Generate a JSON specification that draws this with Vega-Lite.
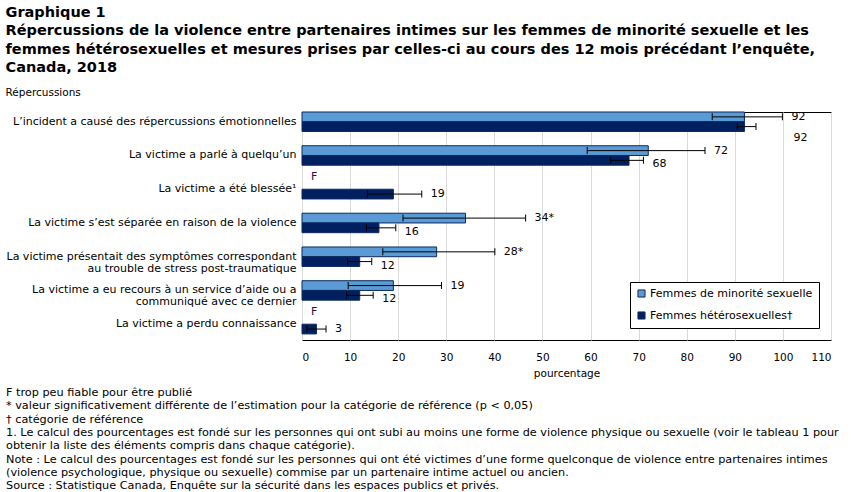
{
  "$schema": "https://vega.github.io/schema/vega-lite/v6.json",
  "background": "white",
  "padding": {"left": 5, "top": 4, "right": 5, "bottom": 0},
  "title": {
    "text": [
      "Graphique 1",
      "Répercussions de la violence entre partenaires intimes sur les femmes de minorité sexuelle et les",
      "femmes hétérosexuelles et mesures prises par celles-ci au cours des 12 mois précédant l’enquête,",
      "Canada, 2018"
    ],
    "subtitle": "Répercussions",
    "anchor": "start",
    "frame": "bounds",
    "font": "DejaVu Sans",
    "fontSize": 14.5,
    "fontWeight": "bold",
    "lineHeight": 18.5,
    "color": "#000",
    "subtitleFont": "DejaVu Sans",
    "subtitleFontSize": 10.5,
    "subtitleColor": "#000",
    "subtitlePadding": 12,
    "offset": 11
  },
  "resolve": {"legend": {"color": "independent"}},
  "datasets": {
    "donnees": [
      {"categorie": "L’incident a causé des répercussions émotionnelles", "groupe": "Femmes de minorité sexuelle", "valeur": 92, "bas": 85.3, "haut": 99.9, "etiquette": "92"},
      {"categorie": "L’incident a causé des répercussions émotionnelles", "groupe": "Femmes hétérosexuelles†", "valeur": 92, "bas": 90.5, "haut": 94.4, "etiquette": "92"},
      {"categorie": "La victime a parlé à quelqu’un", "groupe": "Femmes de minorité sexuelle", "valeur": 72, "bas": 59.3, "haut": 83.8, "etiquette": "72"},
      {"categorie": "La victime a parlé à quelqu’un", "groupe": "Femmes hétérosexuelles†", "valeur": 68, "bas": 64.2, "haut": 71.0, "etiquette": "68"},
      {"categorie": "La victime a été blessée¹", "groupe": "Femmes de minorité sexuelle", "valeur": null, "bas": null, "haut": null, "etiquette": "F"},
      {"categorie": "La victime a été blessée¹", "groupe": "Femmes hétérosexuelles†", "valeur": 19, "bas": 13.6, "haut": 24.9, "etiquette": "19"},
      {"categorie": "La victime s’est séparée en raison de la violence", "groupe": "Femmes de minorité sexuelle", "valeur": 34, "bas": 21.0, "haut": 46.5, "etiquette": "34*"},
      {"categorie": "La victime s’est séparée en raison de la violence", "groupe": "Femmes hétérosexuelles†", "valeur": 16, "bas": 13.4, "haut": 19.5, "etiquette": "16"},
      {"categorie": "La victime présentait des symptômes correspondant|au trouble de stress post-traumatique", "groupe": "Femmes de minorité sexuelle", "valeur": 28, "bas": 16.8, "haut": 40.1, "etiquette": "28*"},
      {"categorie": "La victime présentait des symptômes correspondant|au trouble de stress post-traumatique", "groupe": "Femmes hétérosexuelles†", "valeur": 12, "bas": 9.5, "haut": 14.5, "etiquette": "12"},
      {"categorie": "La victime a eu recours à un service d’aide ou a|communiqué avec ce dernier", "groupe": "Femmes de minorité sexuelle", "valeur": 19, "bas": 9.6, "haut": 29.0, "etiquette": "19"},
      {"categorie": "La victime a eu recours à un service d’aide ou a|communiqué avec ce dernier", "groupe": "Femmes hétérosexuelles†", "valeur": 12, "bas": 9.3, "haut": 14.8, "etiquette": "12"},
      {"categorie": "La victime a perdu connaissance", "groupe": "Femmes de minorité sexuelle", "valeur": null, "bas": null, "haut": null, "etiquette": "F"},
      {"categorie": "La victime a perdu connaissance", "groupe": "Femmes hétérosexuelles†", "valeur": 3, "bas": 1.0, "haut": 5.0, "etiquette": "3"}
    ]
  },
  "vconcat": [
    {
      "width": 529,
      "height": 228,
      "title": {
        "text": [
          "F trop peu fiable pour être publié",
          "* valeur significativement différente de l’estimation pour la catégorie de référence (p < 0,05)",
          "† catégorie de référence",
          "1. Le calcul des pourcentages est fondé sur les personnes qui ont subi au moins une forme de violence physique ou sexuelle (voir le tableau 1 pour",
          "obtenir la liste des éléments compris dans chaque catégorie).",
          "Note : Le calcul des pourcentages est fondé sur les personnes qui ont été victimes d’une forme quelconque de violence entre partenaires intimes",
          "(violence psychologique, physique ou sexuelle) commise par un partenaire intime actuel ou ancien.",
          "Source : Statistique Canada, Enquête sur la sécurité dans les espaces publics et privés."
        ],
        "orient": "bottom",
        "anchor": "start",
        "frame": "bounds",
        "font": "DejaVu Sans",
        "fontSize": 11.25,
        "fontWeight": "normal",
        "lineHeight": 13.3,
        "color": "#000",
        "offset": 8
      },
      "data": {"name": "donnees"},
      "encoding": {
        "y": {
          "field": "categorie",
          "type": "nominal",
          "scale": {
            "domain": [
              "L’incident a causé des répercussions émotionnelles",
              "La victime a parlé à quelqu’un",
              "La victime a été blessée¹",
              "La victime s’est séparée en raison de la violence",
              "La victime présentait des symptômes correspondant|au trouble de stress post-traumatique",
              "La victime a eu recours à un service d’aide ou a|communiqué avec ce dernier",
              "La victime a perdu connaissance"
            ],
            "paddingInner": 0.423,
            "paddingOuter": 0.09,
            "align": 0
          },
          "axis": {
            "title": null,
            "labelExpr": "split(datum.label, '|')",
            "ticks": false,
            "domain": false,
            "grid": false,
            "labelPadding": 6,
            "labelFont": "DejaVu Sans",
            "labelFontSize": 11,
            "labelLineHeight": 12,
            "labelLimit": 0,
            "labelColor": "#000"
          }
        },
        "yOffset": {
          "field": "groupe",
          "type": "nominal",
          "scale": {
            "domain": ["Femmes de minorité sexuelle", "Femmes hétérosexuelles†"],
            "paddingInner": 0,
            "paddingOuter": 0
          }
        }
      },
      "layer": [
        {
          "transform": [{"filter": "isValid(datum.valeur)"}],
          "mark": {"type": "bar", "stroke": "#0d2a5e", "strokeWidth": 1},
          "encoding": {
            "x": {
              "field": "valeur",
              "type": "quantitative",
              "scale": {"domain": [0, 110], "nice": false},
              "axis": {
                "title": "pourcentage",
                "values": [0, 10, 20, 30, 40, 50, 60, 70, 80, 90, 100, 110],
                "grid": true,
                "gridColor": "#d9d9d9",
                "gridWidth": 1,
                "ticks": false,
                "domain": false,
                "labelPadding": 12,
                "labelFont": "DejaVu Sans",
                "labelFontSize": 10.5,
                "labelColor": "#000",
                "titleFont": "DejaVu Sans",
                "titleFontSize": 10.5,
                "titleFontWeight": "normal",
                "titleColor": "#000",
                "titlePadding": 6
              }
            },
            "color": {
              "field": "groupe",
              "type": "nominal",
              "scale": {
                "domain": ["Femmes de minorité sexuelle", "Femmes hétérosexuelles†"],
                "range": ["#5b9bd5", "#002060"]
              },
              "legend": {
                "title": null,
                "orient": "bottom-right",
                "offset": 12,
                "strokeColor": "#000",
                "fillColor": "#fff",
                "padding": 6,
                "rowPadding": 9,
                "labelFont": "DejaVu Sans",
                "labelFontSize": 11,
                "labelColor": "#000",
                "labelLimit": 0,
                "labelOffset": 3,
                "symbolType": "square",
                "symbolSize": 50,
                "symbolStrokeColor": "#0d2a5e",
                "symbolStrokeWidth": 1
              }
            }
          }
        },
        {
          "transform": [{"filter": "isValid(datum.valeur)"}],
          "mark": {"type": "rule", "color": "#000", "strokeWidth": 1},
          "encoding": {
            "x": {"field": "bas", "type": "quantitative"},
            "x2": {"field": "haut"}
          }
        },
        {
          "transform": [{"filter": "isValid(datum.valeur)"}],
          "mark": {"type": "tick", "orient": "vertical", "size": 7, "thickness": 1, "color": "#000", "opacity": 1},
          "encoding": {"x": {"field": "bas", "type": "quantitative"}}
        },
        {
          "transform": [{"filter": "isValid(datum.valeur)"}],
          "mark": {"type": "tick", "orient": "vertical", "size": 7, "thickness": 1, "color": "#000", "opacity": 1},
          "encoding": {"x": {"field": "haut", "type": "quantitative"}}
        },
        {
          "transform": [
            {"filter": "isValid(datum.valeur) && datum.groupe === 'Femmes de minorité sexuelle'"}
          ],
          "mark": {"type": "text", "align": "left", "baseline": "middle", "dx": 9, "font": "DejaVu Sans", "fontSize": 11, "color": "#000"},
          "encoding": {
            "x": {"field": "haut", "type": "quantitative"},
            "text": {"field": "etiquette"}
          }
        },
        {
          "transform": [
            {"joinaggregate": [{"op": "valid", "field": "valeur", "as": "nb"}], "groupby": ["categorie"]},
            {"filter": "datum.groupe === 'Femmes hétérosexuelles†' && datum.nb === 2 && datum.valeur < 90"}
          ],
          "mark": {"type": "text", "align": "left", "baseline": "middle", "dx": 9, "dy": 4, "font": "DejaVu Sans", "fontSize": 11, "color": "#000"},
          "encoding": {
            "x": {"field": "haut", "type": "quantitative"},
            "text": {"field": "etiquette"}
          }
        },
        {
          "transform": [
            {"joinaggregate": [{"op": "valid", "field": "valeur", "as": "nb"}], "groupby": ["categorie"]},
            {"filter": "datum.groupe === 'Femmes hétérosexuelles†' && datum.nb === 1"}
          ],
          "mark": {"type": "text", "align": "left", "baseline": "middle", "dx": 9, "font": "DejaVu Sans", "fontSize": 11, "color": "#000"},
          "encoding": {
            "x": {"field": "haut", "type": "quantitative"},
            "text": {"field": "etiquette"}
          }
        },
        {
          "transform": [
            {"joinaggregate": [{"op": "max", "field": "haut", "as": "hautMax"}], "groupby": ["categorie"]},
            {"filter": "datum.groupe === 'Femmes hétérosexuelles†' && datum.valeur >= 90"}
          ],
          "mark": {"type": "text", "align": "left", "baseline": "middle", "dx": 11, "dy": 11, "font": "DejaVu Sans", "fontSize": 11, "color": "#000"},
          "encoding": {
            "x": {"field": "hautMax", "type": "quantitative"},
            "text": {"field": "etiquette"}
          }
        },
        {
          "transform": [{"filter": "!isValid(datum.valeur)"}],
          "mark": {"type": "text", "align": "left", "baseline": "middle", "dx": 9, "dy": -7, "font": "DejaVu Sans", "fontSize": 11, "color": "#3a0a3a"},
          "encoding": {
            "x": {"datum": 0, "type": "quantitative"},
            "text": {"field": "etiquette"}
          }
        }
      ]
    }
  ],
  "config": {
    "view": {"stroke": "#000", "strokeWidth": 1},
    "font": "DejaVu Sans"
  }
}
